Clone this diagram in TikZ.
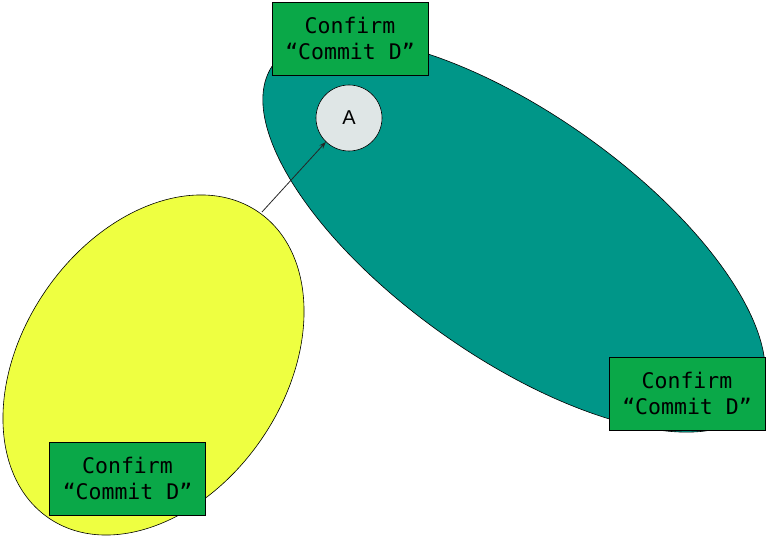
\documentclass[tikz,border=0pt]{standalone}
\usepackage{fontspec}
\setmainfont{Liberation Sans}
\setmonofont{DejaVu Sans Mono}
\usetikzlibrary{shapes.geometric,arrows.meta}
\definecolor{tealfill}{RGB}{0,150,136}
\definecolor{yellowfill}{RGB}{238,255,65}
\definecolor{boxgreen}{RGB}{10,168,72}
\definecolor{circfill}{RGB}{223,230,230}
\tikzset{
  blob/.style={ellipse, draw=black, line width=0.6pt, inner sep=0pt},
  labelbox/.style={rectangle, draw=black, line width=0.8pt, fill=boxgreen,
    minimum width=156pt, minimum height=73pt, inner sep=0pt,
    align=center, font=\ttfamily\fontsize{21.5}{26}\selectfont},
  statenode/.style={circle, draw=black, line width=0.6pt, fill=circfill,
    minimum size=66pt, inner sep=0pt, font=\fontsize{20}{24}\selectfont},
  link/.style={-{Stealth[length=7pt,width=5pt]}, line width=0.8pt, draw=black!85}
}
\begin{document}
\begin{tikzpicture}[x=1pt,y=1pt]
\useasboundingbox (0,0) rectangle (768,540);
\node[blob, fill=tealfill, minimum width=590pt, minimum height=244pt, rotate=-35.2] (tealell) at (514,305) {};
\node[labelbox] (box1) at (350,501.5) {Confirm\\“Commit D”};
\node[labelbox] (box2) at (687,146.5) {Confirm\\“Commit D”};
\node[statenode] (A) at (349,422) {A};
\node[blob, fill=yellowfill, minimum width=371pt, minimum height=262pt, rotate=55.6] (yellowell) at (153.5,175) {};
\node[labelbox] (box3) at (127.5,61.5) {Confirm\\“Commit D”};
\coordinate (start) at (262,328);
\draw[link] (start) -- (A.226);
\end{tikzpicture}
\end{document}
